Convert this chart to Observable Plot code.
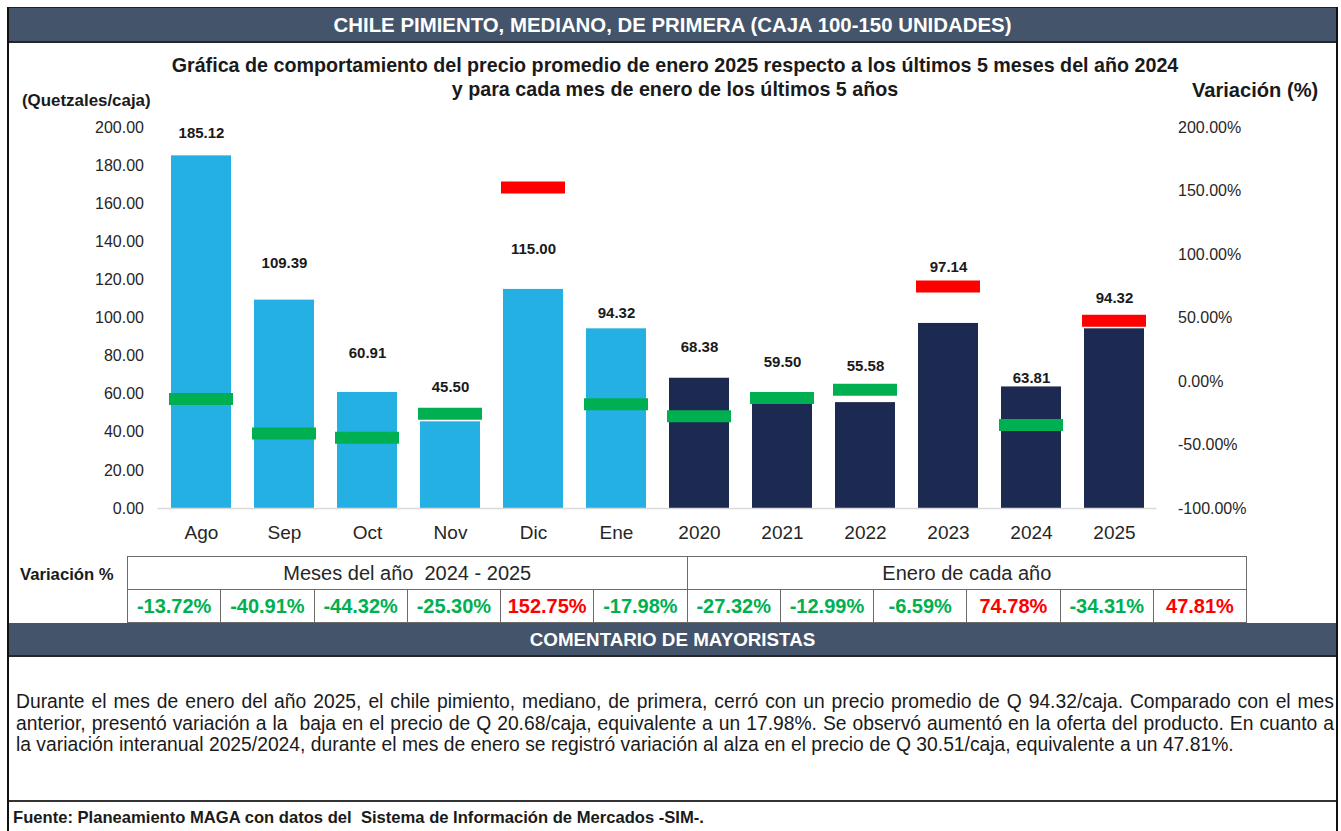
<!DOCTYPE html>
<html>
<head>
<meta charset="utf-8">
<script src="https://cdn.jsdelivr.net/npm/d3@7"></script>
<script src="https://cdn.jsdelivr.net/npm/@observablehq/plot@0.6"></script>
<style>
  html, body { margin: 0; padding: 0; background: #fff; }
  body { font-family: "Liberation Sans", Arial, sans-serif; color: #1a1a1a; }
  #page { position: relative; width: 1341px; height: 831px; overflow: hidden; }
  .abs { position: absolute; }
  .bar { background: #44546a; color: #fff; font-weight: bold; text-align: center; }
  #tbl { border-collapse: collapse; table-layout: fixed; }
  #tbl td { border: 1px solid #6b6b6b; text-align: center; height: 32px; padding: 0; font-size: 20px; color: #262626; }
  #tbl tr.vals td { font-weight: bold; }
  #comment { font-size: 19.3px; line-height: 21.5px; text-align: justify; color: #1a1a1a; }
</style>
</head>
<body>
<div id="page">
  <div class="abs" style="left:7px;top:7px;width:1331px;height:1px;background:#222"></div>
  <div class="abs" style="left:7px;top:7px;width:2px;height:824px;background:#111"></div>
  <div class="abs" style="left:1336px;top:7px;width:2px;height:824px;background:#111"></div>
  <div class="abs bar" id="hdr" style="left:9px;top:8px;width:1327px;height:33px;line-height:34px;font-size:20.4px;border-bottom:2px solid #262626"></div>
  <div class="abs" id="title" style="left:0;top:53px;width:1350px;text-align:center;font-weight:bold;font-size:19.7px;line-height:24px"></div>
  <div class="abs" id="ylab" style="left:22px;top:91px;font-weight:bold;font-size:16.9px"></div>
  <div class="abs" id="y2lab" style="left:1192px;top:79px;font-weight:bold;font-size:20.1px"></div>
  <div class="abs" id="chart" style="left:0;top:100px"></div>
  <div class="abs" id="varlab" style="left:20px;top:565px;font-weight:bold;font-size:16.7px"></div>
  <table class="abs" id="tbl" style="left:127px;top:556px;width:1119px"></table>
  <div class="abs bar" id="hdr2" style="left:9px;top:623px;width:1327px;height:32px;line-height:34px;font-size:18.8px;border-bottom:2px solid #262626"></div>
  <div class="abs" id="comment" style="left:16px;top:691px;width:1318px"></div>
  <div class="abs" style="left:9px;top:800px;width:1327px;height:2px;background:#333"></div>
  <div class="abs" id="source" style="left:13px;top:808px;font-weight:bold;font-size:16.6px"></div>
</div>
<script>
// ---------- data ----------
const headerText = "CHILE PIMIENTO, MEDIANO, DE PRIMERA (CAJA 100-150 UNIDADES)";
const titleLines = [
  "Gráfica de comportamiento del precio promedio de enero 2025 respecto a los últimos 5 meses del año 2024",
  "y para cada mes de enero de los últimos 5 años"
];
const yLeftTitle = "(Quetzales/caja)";
const yRightTitle = "Variación (%)";
const categories = ["Ago", "Sep", "Oct", "Nov", "Dic", "Ene", "2020", "2021", "2022", "2023", "2024", "2025"];
const seriesGroup = ["mes", "mes", "mes", "mes", "mes", "mes", "anio", "anio", "anio", "anio", "anio", "anio"];
const prices = [185.12, 109.39, 60.91, 45.50, 115.00, 94.32, 68.38, 59.50, 55.58, 97.14, 63.81, 94.32];
const variation = [-13.72, -40.91, -44.32, -25.30, 152.75, -17.98, -27.32, -12.99, -6.59, 74.78, -34.31, 47.81];
const leftTicks = [0, 20, 40, 60, 80, 100, 120, 140, 160, 180, 200];
const rightTicks = [-100, -50, 0, 50, 100, 150, 200];
const tableGroupLabels = ["Meses del año\u00a0 2024 - 2025", "Enero de cada año"];
const tableRowLabel = "Variación %";
const commentTitle = "COMENTARIO DE MAYORISTAS";
const commentText = "Durante el mes de enero del año 2025, el chile pimiento, mediano, de primera, cerró con un precio promedio de Q 94.32/caja. Comparado con el mes anterior, presentó variación a la\u00a0 baja en el precio de Q 20.68/caja, equivalente a un 17.98%. Se observó aumentó en la oferta del producto. En cuanto a la variación interanual 2025/2024, durante el mes de enero se registró variación al alza en el precio de Q 30.51/caja, equivalente a un 47.81%.";
const sourceText = "Fuente: Planeamiento MAGA con datos del\u00a0 Sistema de Información de Mercados -SIM-.";

// ---------- style / layout settings (not data) ----------
const labelLiftPx = [23, 37, 39, 35, 40, 16, 31, 33, 36, 56, 9, 31];
const groupColor = { mes: "#25b0e4", anio: "#1c2951" };
const upColor = "#ff0000", downColor = "#00b050";
const FONT = "'Liberation Sans', Arial, sans-serif";

// ---------- text ----------
document.getElementById("hdr").textContent = headerText;
document.getElementById("title").innerHTML = titleLines.join("<br>");
document.getElementById("ylab").textContent = yLeftTitle;
document.getElementById("y2lab").textContent = yRightTitle;
document.getElementById("varlab").textContent = tableRowLabel;
document.getElementById("hdr2").textContent = commentTitle;
document.getElementById("comment").textContent = commentText;
document.getElementById("source").textContent = sourceText;

// ---------- chart ----------
const rows = categories.map((c, i) => ({ cat: c, group: seriesGroup[i], price: prices[i], v: variation[i] }));
// map variation (%) onto the price axis: -100% -> 0, 200% -> 200
const toY = v => (v + 100) * 200 / 300;
const fromY = y => y * 300 / 200 - 100;

const width = 1341, height = 450;
const labelMarks = rows.map((d, i) => Plot.text([d], {
  x: "cat", y: "price", text: r => r.price.toFixed(2), dy: -labelLiftPx[i],
  fontWeight: "bold", fontSize: 15, fill: "#1a1a1a", fontFamily: FONT
}));

const chart = Plot.plot({
  width, height,
  marginTop: 27, marginBottom: 42, marginLeft: 157.5, marginRight: 184.5,
  style: { fontFamily: FONT, background: "transparent", overflow: "visible" },
  x: { type: "band", domain: categories, paddingInner: 0.278, paddingOuter: 0.15, axis: null },
  y: { domain: [0, 200], axis: null },
  marks: [
    Plot.axisY(leftTicks, { anchor: "left", tickSize: 0, tickPadding: 14, tickFormat: d => d.toFixed(2), fontSize: 16, fill: "#262626", label: null }),
    Plot.axisY(rightTicks.map(toY), { anchor: "right", tickSize: 0, tickPadding: 21, tickFormat: d => fromY(d).toFixed(2) + "%", fontSize: 16, fill: "#262626", label: null }),
    Plot.axisX({ anchor: "bottom", tickSize: 0, tickPadding: 17, fontSize: 19, fill: "#262626", label: null }),
    Plot.barY(rows, { x: "cat", y: "price", fill: d => groupColor[d.group] }),
    Plot.ruleY([0], { stroke: "#d9d9d9", strokeWidth: 1.5 }),
    Plot.tickY(rows, { x: "cat", y: d => toY(d.v), stroke: d => d.v >= 0 ? upColor : downColor, strokeWidth: 12, insetLeft: -2, insetRight: -2 }),
    ...labelMarks
  ]
});
document.getElementById("chart").appendChild(chart);

// ---------- variation table ----------
const tbl = document.getElementById("tbl");
const cg = document.createElement("colgroup");
categories.forEach(() => { const c = document.createElement("col"); c.style.width = (1119 / categories.length) + "px"; cg.appendChild(c); });
tbl.appendChild(cg);
const tr1 = document.createElement("tr");
tableGroupLabels.forEach(lbl => { const td = document.createElement("td"); td.colSpan = 6; td.textContent = lbl; tr1.appendChild(td); });
tbl.appendChild(tr1);
const tr2 = document.createElement("tr"); tr2.className = "vals";
variation.forEach(v => {
  const td = document.createElement("td");
  td.textContent = v.toFixed(2) + "%";
  td.style.color = v >= 0 ? upColor : downColor;
  tr2.appendChild(td);
});
tbl.appendChild(tr2);
</script>
</body>
</html>
